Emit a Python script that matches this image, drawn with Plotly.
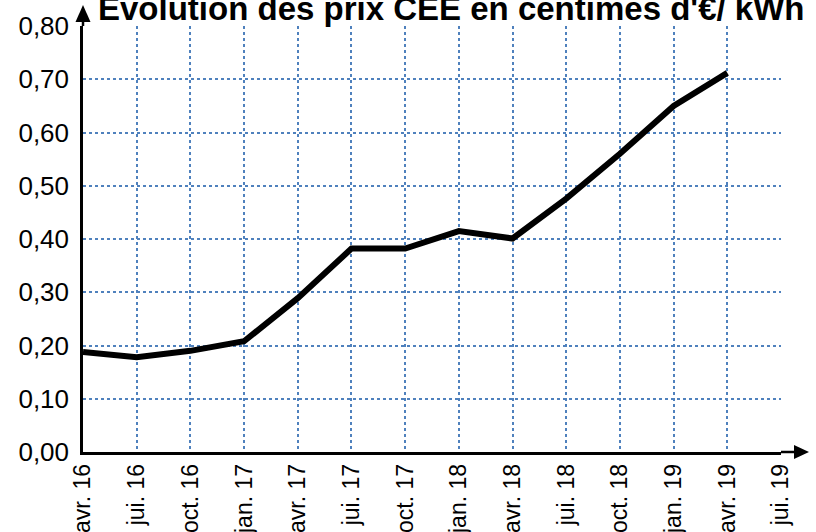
import plotly.graph_objects as go

# Quarterly CEE price (c€/kWh)
categories = ["avr. 16", "jui. 16", "oct. 16", "jan. 17", "avr. 17", "jui. 17", "oct. 17",
              "jan. 18", "avr. 18", "jui. 18", "oct. 18", "jan. 19", "avr. 19", "jui. 19"]
prices = [0.188, 0.178, 0.190, 0.208, 0.289, 0.382, 0.382,
          0.415, 0.401, 0.476, 0.560, 0.650, 0.712]
y_ticks = [0.0, 0.1, 0.2, 0.3, 0.4, 0.5, 0.6, 0.7, 0.8]
title_text = "Evolution des prix CEE en centimes d'€/ kWh"

FONT = "Liberation Sans, Arial, sans-serif"
GRID = "#4f81bd"

fig = go.Figure()
fig.add_trace(go.Scatter(
    x=categories[:len(prices)], y=prices, mode="lines",
    line=dict(color="black", width=6), hoverinfo="skip", showlegend=False,
))

fig.update_layout(
    width=816, height=532,
    margin=dict(l=83, r=35, t=26, b=80),
    paper_bgcolor="white", plot_bgcolor="white",
    separators=", ",
    font=dict(family=FONT, size=23, color="black"),
    xaxis=dict(
        type="category", categoryorder="array", categoryarray=categories,
        range=[0, len(categories) - 1], automargin=False,
        tickangle=-90, ticks="", showline=True, linecolor="black", linewidth=2.5,
        showgrid=True, gridcolor=GRID, gridwidth=1.5, griddash="dot",
        tickfont=dict(size=23, family=FONT, color="black"),
        fixedrange=True,
    ),
    yaxis=dict(
        range=[0, 0.8001], tickvals=y_ticks, tickformat=".2f", automargin=False,
        ticks="", showline=True, linecolor="black", linewidth=2.5,
        ticklabelstandoff=6,
        showgrid=True, gridcolor=GRID, gridwidth=1.5, griddash="dot",
        zeroline=False, tickfont=dict(size=26, family=FONT, color="black"),
        fixedrange=True,
    ),
    annotations=[dict(
        text=f"<b>{title_text}</b>", xref="paper", yref="paper",
        x=0.528, y=1.0, xanchor="center", yanchor="bottom", yshift=-3,
        showarrow=False, font=dict(size=33, family=FONT, color="black"),
    )],
    shapes=[
        # y-axis extension and arrowhead
        dict(type="path", xref="paper", yref="paper", xsizemode="pixel", ysizemode="pixel",
             xanchor=0, yanchor=1, path="M 0 0 L 0 5",
             line=dict(color="black", width=2.5)),
        dict(type="path", xref="paper", yref="paper", xsizemode="pixel", ysizemode="pixel",
             xanchor=0, yanchor=1, path="M -7.5 4 L 7.5 4 L 0 21 Z",
             fillcolor="black", line=dict(color="black", width=0)),
        # x-axis extension and arrowhead
        dict(type="path", xref="paper", yref="paper", xsizemode="pixel", ysizemode="pixel",
             xanchor=1, yanchor=0, path="M 0 0 L 15 0",
             line=dict(color="black", width=2.5)),
        dict(type="path", xref="paper", yref="paper", xsizemode="pixel", ysizemode="pixel",
             xanchor=1, yanchor=0, path="M 13 7 L 13 -7 L 28 0 Z",
             fillcolor="black", line=dict(color="black", width=0)),
    ],
)

fig.write_html("out.html", config=dict(displayModeBar=False))
